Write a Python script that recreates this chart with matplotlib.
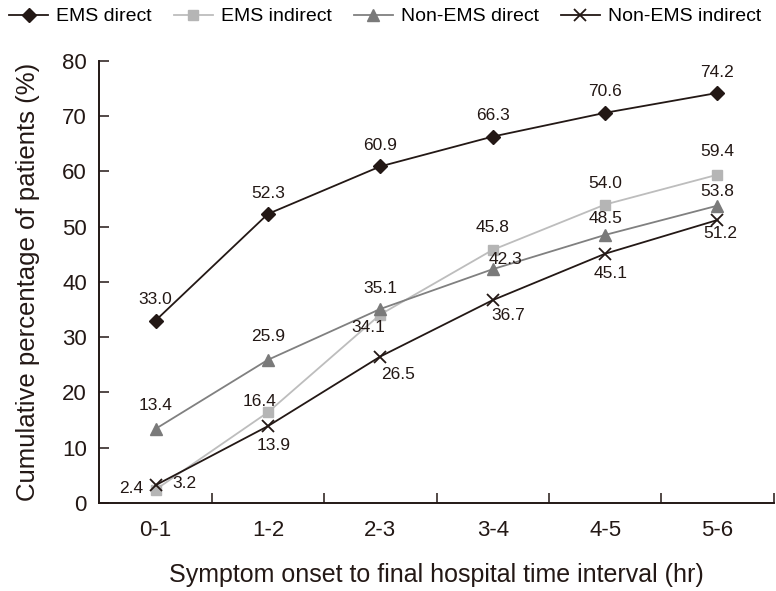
import numpy as np
import matplotlib
matplotlib.use("Agg")
import matplotlib.pyplot as plt
from matplotlib import font_manager

# data
intervals = ["0-1", "1-2", "2-3", "3-4", "4-5", "5-6"]
ems_direct = [33.0, 52.3, 60.9, 66.3, 70.6, 74.2]
ems_indirect = [2.4, 16.4, 34.1, 45.8, 54.0, 59.4]
non_ems_direct = [13.4, 25.9, 35.1, 42.3, 48.5, 53.8]
non_ems_indirect = [3.2, 13.9, 26.5, 36.7, 45.1, 51.2]
series_names = ["EMS direct", "EMS indirect", "Non-EMS direct", "Non-EMS indirect"]
y_ticks = [0, 10, 20, 30, 40, 50, 60, 70, 80]

# pick a condensed font if there is one
names = set(f.name for f in font_manager.fontManager.ttflist)
fam = "Liberation Sans Narrow" if "Liberation Sans Narrow" in names else "Liberation Sans"
plt.rcParams["font.family"] = [fam, "DejaVu Sans"]

dark = "#231815"
styles = [
    dict(color=dark, marker="D", ms=7.5, lw=1.3, mfc=dark, mec=dark),
    dict(color="#bdbdbd", marker="s", ms=7.5, lw=1.3, mfc="#b5b5b5", mec="#b5b5b5"),
    dict(color="#808080", marker="^", ms=8, lw=1.3, mfc="#7a7a7a", mec="#7a7a7a"),
    dict(color=dark, marker="x", ms=8, lw=1.3, mew=1.3),
]

# label offsets in points (dx, dy, ha), per series per point
offsets = [
    [(0, 15, "center")] * 6,
    [(-9, 1, "right"), (-6, 8, "center"), (-9, -9, "center"), (0, 16, "center"),
     (0, 15, "center"), (0, 17, "center")],
    [(0, 17, "center"), (0, 17, "center"), (0, 15, "center"), (9, 7, "center"),
     (0, 12, "center"), (0, 10, "center")],
    [(12, 1, "left"), (4, -14, "center"), (13, -13, "center"), (11, -11, "center"),
     (4, -14, "center"), (2, -10, "center")],
]

fig = plt.figure(figsize=(7.76, 5.91), dpi=100)
ax = fig.add_axes([0.128, 0.149, 0.869, 0.748])

x = np.arange(len(intervals))
all_series = [ems_direct, ems_indirect, non_ems_direct, non_ems_indirect]
for vals, name, st, offs in zip(all_series, series_names, styles, offsets):
    ax.plot(x, vals, label=name, **st)
    for xi, v, (dx, dy, ha) in zip(x, vals, offs):
        ax.annotate(f"{v:.1f}", (xi, v), xytext=(dx, dy), textcoords="offset points",
                    ha=ha, va="center", fontsize=12.5, color=dark)

ax.set_xlim(-0.5, len(intervals) - 0.5)
ax.set_ylim(0, 80)
ax.set_yticks(y_ticks)
ax.set_xticks(x)
ax.set_xticklabels(intervals)
ax.set_xticks(np.arange(len(intervals)) + 0.5, minor=True)

for s in ["top", "right"]:
    ax.spines[s].set_visible(False)
for s in ["left", "bottom"]:
    ax.spines[s].set_linewidth(1.4)
    ax.spines[s].set_color(dark)

ax.tick_params(axis="y", direction="in", length=7, width=1.1, labelsize=16, pad=9, colors=dark)
ax.tick_params(axis="x", which="major", length=0, labelsize=16, pad=12, colors=dark)
ax.tick_params(axis="x", which="minor", direction="in", length=7, width=1.1, color=dark)

ax.set_xlabel("Symptom onset to final hospital time interval (hr)", fontsize=18, labelpad=16, color=dark)
ax.set_ylabel("Cumulative percentage of patients (%)", fontsize=18.5, labelpad=16, color=dark)

fig.legend(loc="center left", bbox_to_anchor=(0.012, 0.972), ncol=4, frameon=False,
           fontsize=14, handlelength=2.0, handletextpad=0.4, columnspacing=1.15,
           borderaxespad=0, borderpad=0)

fig.savefig("out.png", dpi=100)
